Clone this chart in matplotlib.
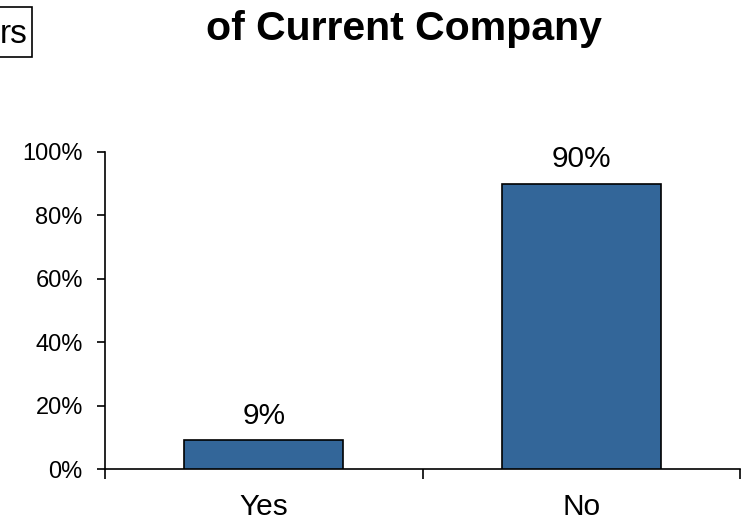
import matplotlib
matplotlib.use("Agg")
import matplotlib.pyplot as plt
from matplotlib.patches import Rectangle

plt.rcParams['font.family'] = ['Liberation Sans', 'DejaVu Sans']

categories = ["Yes", "No"]
values = [9, 90]
value_labels = ["9%", "90%"]
y_ticks = [0, 20, 40, 60, 80, 100]
y_tick_labels = ["0%", "20%", "40%", "60%", "80%", "100%"]
title = "of Current Company"
box_text = "rs"

W, H = 748, 520
fig = plt.figure(figsize=(W / 100, H / 100), dpi=100)

# plot area in pixel coordinates
left_px, right_px, top_px, bottom_px = 105, 740, 152, 469
ax = fig.add_axes([left_px / W, 1 - bottom_px / H,
                   (right_px - left_px) / W, (bottom_px - top_px) / H])

x = list(range(len(categories)))
bars = ax.bar(x, values, width=0.5, color="#336699",
              edgecolor="black", linewidth=1.2, zorder=3)

for xi, v, lab in zip(x, values, value_labels):
    ax.annotate(lab, (xi, v), xytext=(0, 12), textcoords="offset points",
                ha="center", va="baseline", fontsize=21.5, color="black")

ax.set_xlim(-0.5, len(categories) - 0.5)
ax.set_ylim(0, 100)

ax.set_yticks(y_ticks)
ax.set_yticklabels(y_tick_labels, fontsize=17)
ax.tick_params(axis="y", direction="out", length=6, width=1.2, pad=10, colors="black")

# category boundaries carry the x ticks; labels sit at the centers
ax.set_xticks([i - 0.5 for i in range(len(categories) + 1)])
ax.set_xticklabels([""] * (len(categories) + 1))
ax.set_xticks(x, minor=True)
ax.set_xticklabels(categories, minor=True, fontsize=21.5)
ax.tick_params(axis="x", which="major", direction="out", length=7, width=1.2)
ax.tick_params(axis="x", which="minor", length=0, pad=17)

for s in ["top", "right"]:
    ax.spines[s].set_visible(False)
for s in ["left", "bottom"]:
    ax.spines[s].set_linewidth(1.2)
    ax.spines[s].set_color("black")

fig.text(404 / W, 1 - 40 / H, title, ha="center", va="baseline",
         fontsize=29.5, fontweight="bold", color="black")

# text box clipped at the left edge of the figure
fig.patches.append(Rectangle((-20 / W, 1 - 57 / H), 52 / W, 50 / H,
                             transform=fig.transFigure, fill=False,
                             edgecolor="black", linewidth=1.2))
fig.text(28 / W, 1 - 43 / H, box_text, ha="right", va="baseline",
         fontsize=24, color="black")

fig.savefig("out.png", dpi=100, facecolor="white")
